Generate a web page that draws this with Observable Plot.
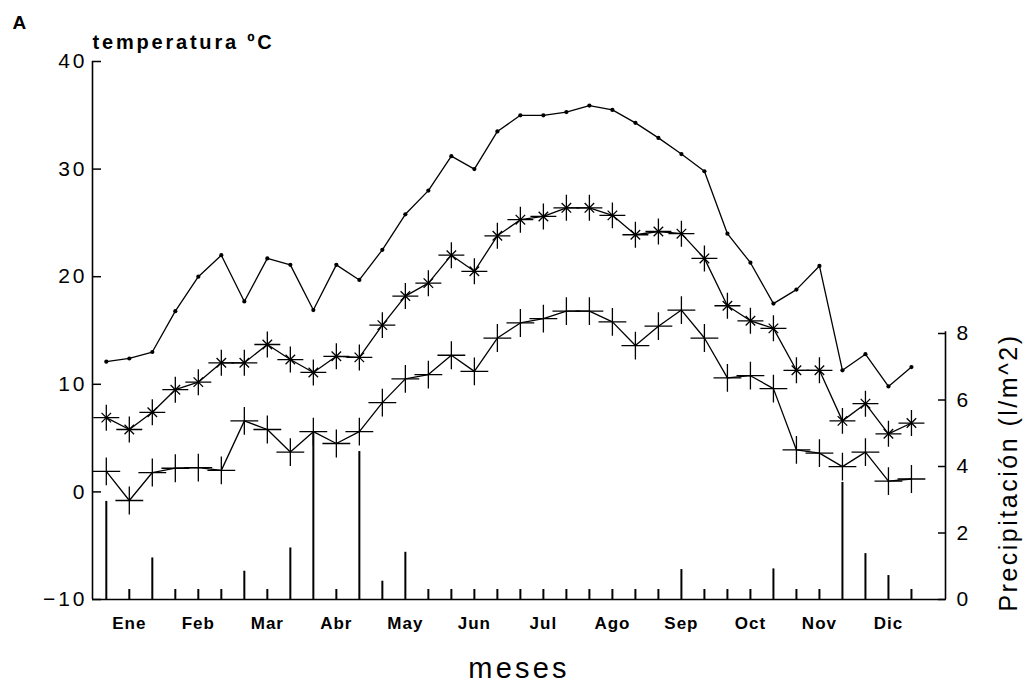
<!DOCTYPE html>
<html><head><meta charset="utf-8">
<script src="https://cdn.jsdelivr.net/npm/d3@7"></script>
<script src="https://cdn.jsdelivr.net/npm/@observablehq/plot@0.6"></script>
<style>
body{margin:0;background:#fff}
</style>
</head><body><div id="chart"></div>
<script>
// decades (3 per month)
const decades = d3.range(1, 37);
const months = ["Ene","Feb","Mar","Abr","May","Jun","Jul","Ago","Sep","Oct","Nov","Dic"];
const monthPos = [2,5,8,11,14,17,20,23,26,29,32,35];
const tMax = [12.1,12.4,13.0,16.8,20.0,22.0,17.7,21.7,21.1,16.9,21.1,19.7,22.5,25.8,28.0,31.2,30.0,33.5,35.0,35.0,35.3,35.9,35.5,34.3,32.9,31.4,29.8,24.0,21.3,17.5,18.8,21.0,11.3,12.8,9.8,11.6];
const tMean = [6.9,5.8,7.4,9.5,10.2,12.0,12.0,13.7,12.3,11.1,12.6,12.5,15.5,18.2,19.4,22.0,20.5,23.8,25.3,25.6,26.4,26.4,25.7,23.9,24.2,24.0,21.7,17.3,15.9,15.2,11.3,11.3,6.6,8.2,5.4,6.4];
const tMin = [1.9,-0.8,1.8,2.2,2.25,2.0,6.6,5.8,3.7,5.6,4.5,5.6,8.3,10.5,10.9,12.7,11.2,14.3,15.7,16.1,16.8,16.8,15.8,13.6,15.4,16.9,14.3,10.6,10.8,9.6,3.9,3.6,2.35,3.7,1.0,1.2];
const precip = [2.95,0.3,1.25,0.3,0.3,0.3,0.85,0.3,1.55,5.0,0.3,4.45,0.55,1.42,0.3,0.3,0.3,0.3,0.3,0.3,0.3,0.3,0.3,0.3,0.3,0.9,0.3,0.3,0.3,0.92,0.3,0.3,3.52,1.38,0.72,0.3];
const tempTicks = [-10,0,10,20,30,40];
const precipTicks = [0,2,4,6,8];

// secondary axis mapping (precipitation -> temperature units)
const P0 = -10, K = 3.09;
const toT = p => P0 + p * K;
const rows = decades.map((d, i) => ({d, max: tMax[i], mean: tMean[i], min: tMin[i], p: precip[i]}));
const X0 = 0.4, X1 = 37.48;
const FONT = "'Liberation Sans', Arial, Helvetica, sans-serif";

const chart = Plot.plot({
  width: 1029, height: 686,
  marginTop: 61, marginBottom: 87, marginLeft: 92, marginRight: 84,
  style: {fontFamily: FONT, background: "white", color: "black", overflow: "visible"},
  x: {domain: [X0, X1]},
  y: {domain: [-10, 40]},
  marks: [
    // axis lines
    Plot.ruleX([X0], {y1: -10, y2: 40, strokeWidth: 1.6}),
    Plot.ruleY([-10], {x1: X0, x2: X1, strokeWidth: 1.6}),
    Plot.ruleX([X1], {y1: -10, y2: toT(8.05), strokeWidth: 1.6}),
    // precipitation bars
    Plot.ruleX(rows, {x: "d", y1: -10, y2: d => toT(d.p), strokeWidth: 2}),
    // temperature lines
    Plot.line(rows, {x: "d", y: "max", strokeWidth: 1.3}),
    Plot.line(rows, {x: "d", y: "mean", strokeWidth: 1.3}),
    Plot.line(rows, {x: "d", y: "min", strokeWidth: 1.3}),
    Plot.dot(rows, {x: "d", y: "max", r: 2.1, fill: "black"}),
    Plot.dot(rows, {x: "d", y: "mean", symbol: "plus", r: 8.4, stroke: "black", strokeWidth: 1.3}),
    Plot.dot(rows, {x: "d", y: "mean", symbol: "times", r: 4.4, stroke: "black", strokeWidth: 1.3}),
    Plot.dot(rows, {x: "d", y: "min", symbol: "plus", r: 9, stroke: "black", strokeWidth: 1.3}),
    // axes
    Plot.axisY(tempTicks, {anchor: "left", tickSize: -9, tickPadding: 14, fontSize: 21, label: null,
      tickFormat: d => d < 0 ? "\u2212" + Math.abs(d) : String(d), strokeWidth: 1.5}),
    Plot.axisY(precipTicks.map(toT), {anchor: "right", tickSize: -8, tickPadding: 19, fontSize: 21, label: null,
      tickFormat: d => String(Math.round((d - P0) / K)), strokeWidth: 1.5}),
    Plot.axisX(monthPos, {anchor: "bottom", tickSize: 0, tickPadding: 17, fontSize: 17, fontWeight: "bold", label: null,
      tickFormat: d => months[monthPos.indexOf(d)]}),
    // titles
    Plot.text(["A"], {frameAnchor: "top-left", dx: -80, dy: -33, lineAnchor: "bottom", textAnchor: "start",
      fontSize: 19, fontWeight: "bold"}),
    Plot.text(["temperatura ºC"], {frameAnchor: "top-left", dx: 0, dy: -13, lineAnchor: "bottom", textAnchor: "start",
      fontSize: 20, fontWeight: "bold"}),
    Plot.text(["meses"], {frameAnchor: "bottom", dx: 0, dy: 78, lineAnchor: "bottom", textAnchor: "middle",
      fontSize: 29}),
    Plot.text(["Precipitación (l/m^2)"], {frameAnchor: "right", dx: 63, dy: 142, rotate: -90,
      lineAnchor: "middle", textAnchor: "middle", fontSize: 25})
  ]
});

// letter spacing (the scanned original uses a wide-tracked typeface)
const svg = d3.select(chart);
const yLabels = svg.selectAll("g[aria-label='y-axis tick label']").nodes();
if (yLabels[0]) d3.select(yLabels[0]).selectAll("text").style("letter-spacing", "3px");
if (yLabels[1]) d3.select(yLabels[1]).selectAll("text").style("letter-spacing", "3px");
svg.selectAll("g[aria-label='x-axis tick label'] text").style("letter-spacing", "1px");
const texts = svg.selectAll("g[aria-label='text']").nodes();
const spacing = ["0px", "2.8px", "3.2px", "2.5px"];
texts.forEach((g, i) => d3.select(g).selectAll("text").style("letter-spacing", spacing[i] || "0px"));

document.getElementById("chart").append(chart);
</script>
</body></html>
